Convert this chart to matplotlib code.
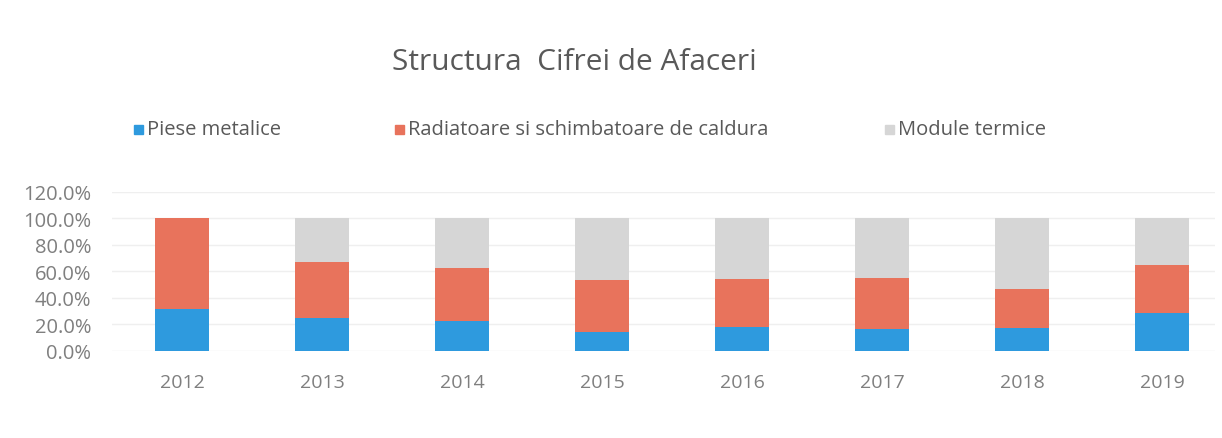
import matplotlib.pyplot as plt
import numpy as np

years = ['2012', '2013', '2014', '2015', '2016', '2017', '2018', '2019']
piese = [31.5, 24.7, 22.7, 14.4, 17.7, 16.4, 16.9, 28.2]
radiatoare = [68.5, 42.1, 39.5, 39.0, 36.5, 38.3, 29.7, 36.8]
module = [0.0, 33.2, 37.8, 46.6, 45.8, 45.3, 53.4, 35.0]
labels = ['Piese metalice', 'Radiatoare si schimbatoare de caldura', 'Module termice']
colors = ['#2e9ade', '#e8735c', '#d6d6d6']

plt.rcParams['font.family'] = ['Open Sans', 'DejaVu Sans']

fig = plt.figure(figsize=(12.22, 4.39), dpi=100)
ax = fig.add_axes([112 / 1222, 1 - 351.7 / 439, 1103 / 1222, (351.7 - 193) / 439])

x = np.arange(len(years))
p = np.array(piese) / 100
r = np.array(radiatoare) / 100
m = np.array(module) / 100
w = 0.39
ax.bar(x, p, w, color=colors[0], zorder=3)
ax.bar(x, r, w, bottom=p, color=colors[1], zorder=3)
ax.bar(x, m, w, bottom=p + r, color=colors[2], zorder=3)

ax.set_xlim(-0.5, -0.5 + 1103 / 140)
ax.set_ylim(0, 1.2)
ax.set_yticks(np.arange(0, 1.21, 0.2))
ax.set_yticklabels(['%.1f%%' % (v * 100) for v in np.arange(0, 1.21, 0.2)])
ax.set_xticks(x)
ax.set_xticklabels(years)
ax.tick_params(length=0, colors='#7f7f7f')
ax.tick_params(axis='x', pad=16, labelsize=14)
ax.tick_params(axis='y', pad=15, labelsize=14.5)
ax.grid(axis='y', color='#efefef', lw=1, zorder=0)
for s in ax.spines.values():
    s.set_visible(False)

fig.text(574 / 1222, 1 - 62 / 439, 'Structura  Cifrei de Afaceri', ha='center', va='center',
         fontsize=21.5, color='#595959')

# legend drawn by hand to match the wide spacing
leg_x = [134, 395, 885]
for lx, lab, c in zip(leg_x, labels, colors):
    fig.patches.append(plt.Rectangle((lx / 1222, 1 - 135 / 439), 9 / 1222, 9 / 439,
                                     transform=fig.transFigure, color=c))
    fig.text((lx + 13) / 1222, 1 - 130 / 439, lab, ha='left', va='center',
             fontsize=14.5, color='#595959')

fig.savefig('out.png', dpi=100)
